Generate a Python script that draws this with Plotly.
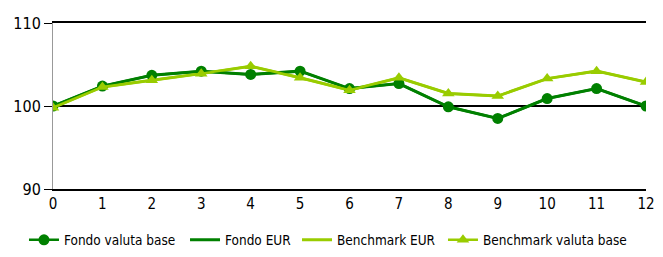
import plotly.graph_objects as go

x_vals = list(range(13))
fondo_base = [100, 102.4, 103.7, 104.2, 103.8, 104.2, 102.1, 102.7, 99.9, 98.5, 100.9, 102.1, 100]
fondo_eur = [100, 102.4, 103.7, 104.2, 103.8, 104.2, 102.1, 102.7, 99.9, 98.5, 100.9, 102.1, 100]
bench_eur = [99.8, 102.3, 103.1, 103.9, 104.8, 103.4, 101.9, 103.4, 101.5, 101.2, 103.3, 104.2, 102.9]
bench_base = [99.8, 102.3, 103.1, 103.9, 104.8, 103.4, 101.9, 103.4, 101.5, 101.2, 103.3, 104.2, 102.9]
y_ticks = [90, 100, 110]

DARK = "#008000"
LIGHT = "#99CC00"
FONT = "DejaVu Sans Condensed, Liberation Sans Narrow, sans-serif"

fig = go.Figure()
fig.add_trace(go.Scatter(x=x_vals, y=fondo_eur, name="Fondo EUR", mode="lines",
                         line=dict(color=DARK, width=3), legend="legend2"))
fig.add_trace(go.Scatter(x=x_vals, y=bench_eur, name="Benchmark EUR", mode="lines",
                         line=dict(color=LIGHT, width=3), legend="legend3"))
fig.add_trace(go.Scatter(x=x_vals, y=fondo_base, name="Fondo valuta base", mode="lines+markers",
                         line=dict(color=DARK, width=2.5),
                         marker=dict(symbol="circle", size=11, color=DARK), legend="legend"))
fig.add_trace(go.Scatter(x=x_vals, y=bench_base, name="Benchmark valuta base", mode="lines+markers",
                         line=dict(color=LIGHT, width=2.5),
                         marker=dict(symbol="triangle-up", size=11, color=LIGHT), legend="legend4"))

def leg(x):
    return dict(orientation="h", xref="container", yref="container",
                x=x, xanchor="left", y=0.0373, yanchor="middle",
                font=dict(size=13.5), itemwidth=30, bgcolor="rgba(0,0,0,0)")

fig.update_layout(
    width=647, height=241,
    margin=dict(l=45, r=9, t=15, b=60, autoexpand=False),
    paper_bgcolor="white", plot_bgcolor="white",
    font=dict(family=FONT, size=16, color="#000000"),
    showlegend=True,
    legend=leg(0.0247), legend2=leg(0.2736), legend3=leg(0.4467), legend4=leg(0.6723),
    xaxis=dict(range=[0, 12], tickvals=x_vals, showgrid=False, zeroline=False,
               showline=True, linecolor="#000000", linewidth=1.5, mirror=True, ticks="",
               tickfont=dict(size=15), ticklabeloverflow="allow",
               fixedrange=True),
    yaxis=dict(range=[90, 110], tickvals=y_ticks, showgrid=True, gridcolor="#000000",
               gridwidth=1.5, zeroline=False, showline=True, linecolor="#999999",
               linewidth=1, ticks="outside", ticklen=8, tickcolor="#000000",
               fixedrange=True),
)

fig.write_html("out.html")
